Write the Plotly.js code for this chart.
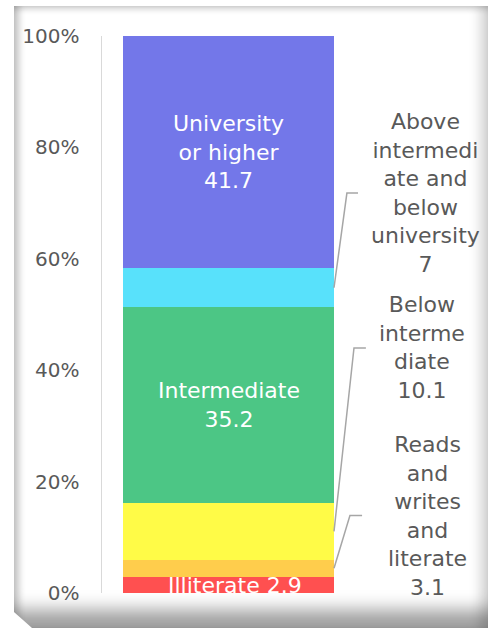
<!DOCTYPE html>
<html>
<head>
<meta charset="utf-8">
<script src="https://cdn.plot.ly/plotly-3.0.1.min.js"></script>
<style>
  html, body { margin: 0; padding: 0; background: #ffffff; }
  #wrap { position: relative; width: 488px; height: 634px; overflow: hidden; background: #ffffff; }
  #frame {
    position: absolute; left: 14px; top: 6px; width: 474px; height: 622px;
    background: #ffffff;
    clip-path: polygon(0 0, 100% 0, 100% 100%, 18px 100%, 0 calc(100% - 16px));
    box-shadow:
      inset 9px 0 7px -4px rgba(0,0,0,0.22),
      inset 0 7px 6px -4px rgba(0,0,0,0.18),
      inset -14px 0 12px -6px rgba(0,0,0,0.16),
      inset 0 -30px 18px -12px rgba(0,0,0,0.38);
  }
  #chart { position: absolute; left: 0; top: 0; width: 488px; height: 634px; }
</style>
</head>
<body>
<div id="wrap">
  <div id="frame"></div>
  <div id="chart"></div>
</div>
<script>
// ---- data ----
const category = ["Education"];
const seriesNames = ["Illiterate", "Reads and writes and literate", "Below intermediate", "Intermediate", "Above intermediate and below university", "University or higher"];
const seriesValues = [2.9, 3.1, 10.1, 35.2, 7, 41.7];
const seriesColors = ["#FF5050", "#FFCD4C", "#FFFB47", "#4CC685", "#58E1FB", "#7377E9"];
const labelTexts = [
  "Illiterate 2.9",
  "Reads<br>and<br>writes<br>and<br>literate<br>3.1",
  "Below<br>interme<br>diate<br>10.1",
  "Intermediate<br>35.2",
  "Above<br>intermedi<br>ate and<br>below<br>university<br>7",
  "University<br>or higher<br>41.7"
];
const tickValues = [0, 20, 40, 60, 80, 100];
const tickLabels = ["0%", "20%", "40%", "60%", "80%", "100%"];

// ---- build ----
const FONT = "DejaVu Sans";
const traces = seriesValues.map((v, i) => ({
  type: "bar",
  x: category,
  y: [v],
  name: seriesNames[i],
  marker: { color: seriesColors[i], line: { width: 0 } },
  width: 0.834,
  hoverinfo: "skip"
}));

// cumulative midpoints
const mids = [];
let acc = 0;
seriesValues.forEach(v => { mids.push(acc + v / 2); acc += v; });

const annotations = [];
const shapes = [];
// inside labels: indices 0, 3, 5
[[0, 6], [3, 0], [5, 0]].forEach(([i, xs]) => {
  annotations.push({
    x: category[0], y: mids[i], xref: "x", yref: "y",
    text: labelTexts[i], showarrow: false, xshift: xs, yshift: i === 0 ? -1 : 0,
    font: { family: FONT, size: 22, color: "#ffffff" },
    xanchor: "center", yanchor: "middle", align: "center"
  });
});
// outside labels: [index, label x (paper), label y (data), elbow x, end x]
const outside = [
  [4, 1.277, 71.8, 0.968, 1.012],
  [2, 1.265, 44.0, 0.996, 1.043],
  [1, 1.285, 13.9, 0.980, 1.028]
];
outside.forEach(([i, lx, ly, ex, endx]) => {
  annotations.push({
    x: lx, y: ly, xref: "paper", yref: "y",
    text: labelTexts[i], showarrow: false,
    font: { family: FONT, size: 22, color: "#595959" },
    xanchor: "center", yanchor: "middle", align: "center"
  });
  shapes.push({
    type: "path", xref: "paper", yref: "y",
    path: `M 0.917 ${mids[i]} L ${ex} ${ly} L ${endx} ${ly}`,
    line: { color: "#A6A6A6", width: 1.5 }
  });
});

const layout = {
  width: 488, height: 634,
  margin: { l: 102, r: 133, t: 36, b: 41, pad: 0 },
  barmode: "stack",
  showlegend: false,
  paper_bgcolor: "rgba(0,0,0,0)",
  plot_bgcolor: "rgba(0,0,0,0)",
  font: { family: FONT, color: "#595959" },
  xaxis: { visible: false, range: [-0.5, 0.5], fixedrange: true },
  yaxis: {
    range: [0, 100], tickmode: "array", tickvals: tickValues, ticktext: tickLabels,
    showgrid: false, zeroline: false, showline: true,
    linecolor: "#D9D9D9", linewidth: 1.5, ticks: "",
    ticklabelstandoff: 17,
    tickfont: { family: FONT, size: 20, color: "#595959" }
  },
  annotations: annotations,
  shapes: shapes
};

Plotly.newPlot("chart", traces, layout, { displayModeBar: false, staticPlot: true });
</script>
</body>
</html>
